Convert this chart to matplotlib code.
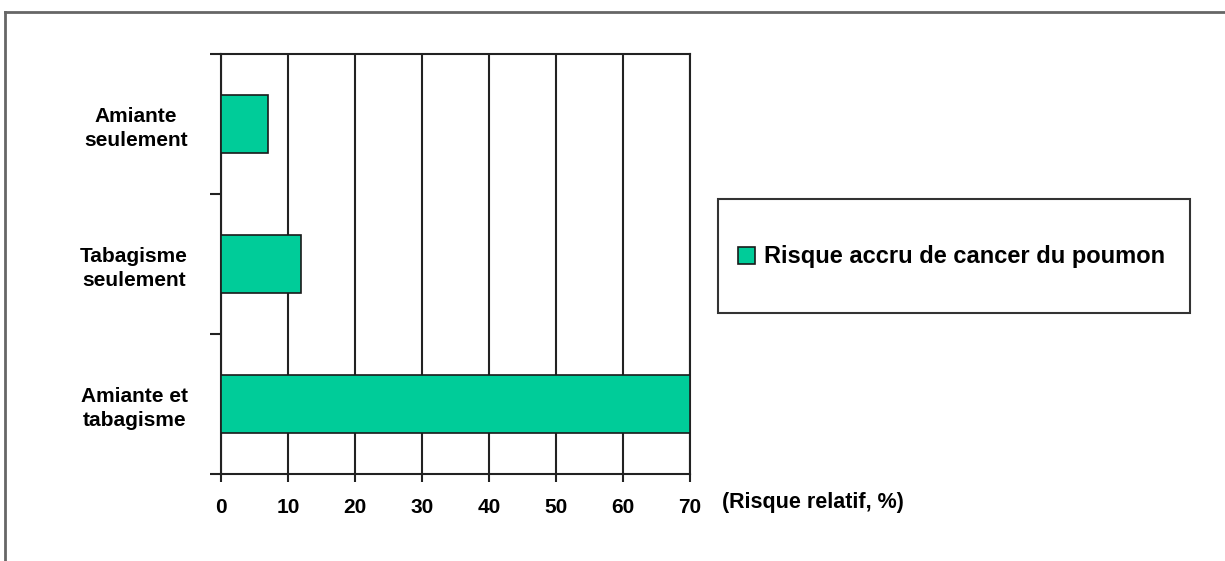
import numpy as np
import matplotlib.pyplot as plt
from matplotlib.patches import Rectangle
from matplotlib.lines import Line2D

categories = ["Amiante\nseulement", "Tabagisme\nseulement", "Amiante et\ntabagisme"]
values = [7, 12, 70]
series_name = "Risque accru de cancer du poumon"
xticks = [0, 10, 20, 30, 40, 50, 60, 70]

plt.rcParams['font.family'] = ['Liberation Sans', 'DejaVu Sans']
plt.rcParams['font.weight'] = 'bold'

fig = plt.figure(figsize=(12.25, 5.61), dpi=100)
ax = fig.add_axes([221/1225, 1 - 474/561, (690-221)/1225, (474-54)/561])

y = np.arange(len(categories))
bars = ax.barh(y, values, height=0.41, color='#00CC99', edgecolor='#1a1a1a',
               linewidth=1.2, label=series_name, zorder=3)
ax.set_ylim(len(categories) - 0.5, -0.5)
ax.set_xlim(0, 70)

ax.set_xticks(xticks)
ax.set_xticklabels([str(t) for t in xticks], fontsize=15, fontweight='bold')
ax.xaxis.grid(True, color='#222222', linewidth=1.5, zorder=1)
ax.tick_params(axis='x', length=6, width=1.5, color='#222222', pad=11)

# boundaries as major ticks, labels on minor ticks
ax.set_yticks(np.arange(-0.5, len(categories), 1.0))
ax.set_yticklabels([])
ax.tick_params(axis='y', which='major', length=8, width=1.5, color='#222222')
ax.set_yticks(y, minor=True)
ax.set_yticklabels(categories, minor=True, fontsize=15, fontweight='bold',
                   multialignment='center', linespacing=1.3)
ax.tick_params(axis='y', which='minor', length=0, pad=24)

for s in ['left', 'bottom', 'top', 'right']:
    ax.spines[s].set_linewidth(1.5)
    ax.spines[s].set_color('#222222')

ax.text(501/469, -0.068, "(Risque relatif, %)", transform=ax.transAxes,
        fontsize=15.5, fontweight='bold', ha='left', va='center')

# legend box
fig.patches.append(Rectangle((718/1225, 1 - 313/561), (1190-718)/1225, (313-199)/561,
                             transform=fig.transFigure, facecolor='white',
                             edgecolor='#333333', linewidth=1.5))
fig.legend(handles=[bars], labels=[series_name], loc='center left',
           bbox_to_anchor=(726/1225, 1 - 257/561), frameon=False, borderpad=0,
           prop={'size': 17, 'weight': 'bold'}, handlelength=0.72,
           handleheight=0.72, handletextpad=0.38)

# outer frame (left and top visible)
fig.add_artist(Line2D([5/1225, 5/1225], [0, 1 - 12/561], transform=fig.transFigure,
                      color='#666666', linewidth=2))
fig.add_artist(Line2D([5/1225, 1], [1 - 12/561, 1 - 12/561], transform=fig.transFigure,
                      color='#666666', linewidth=2))

fig.savefig('out.png', dpi=100)
